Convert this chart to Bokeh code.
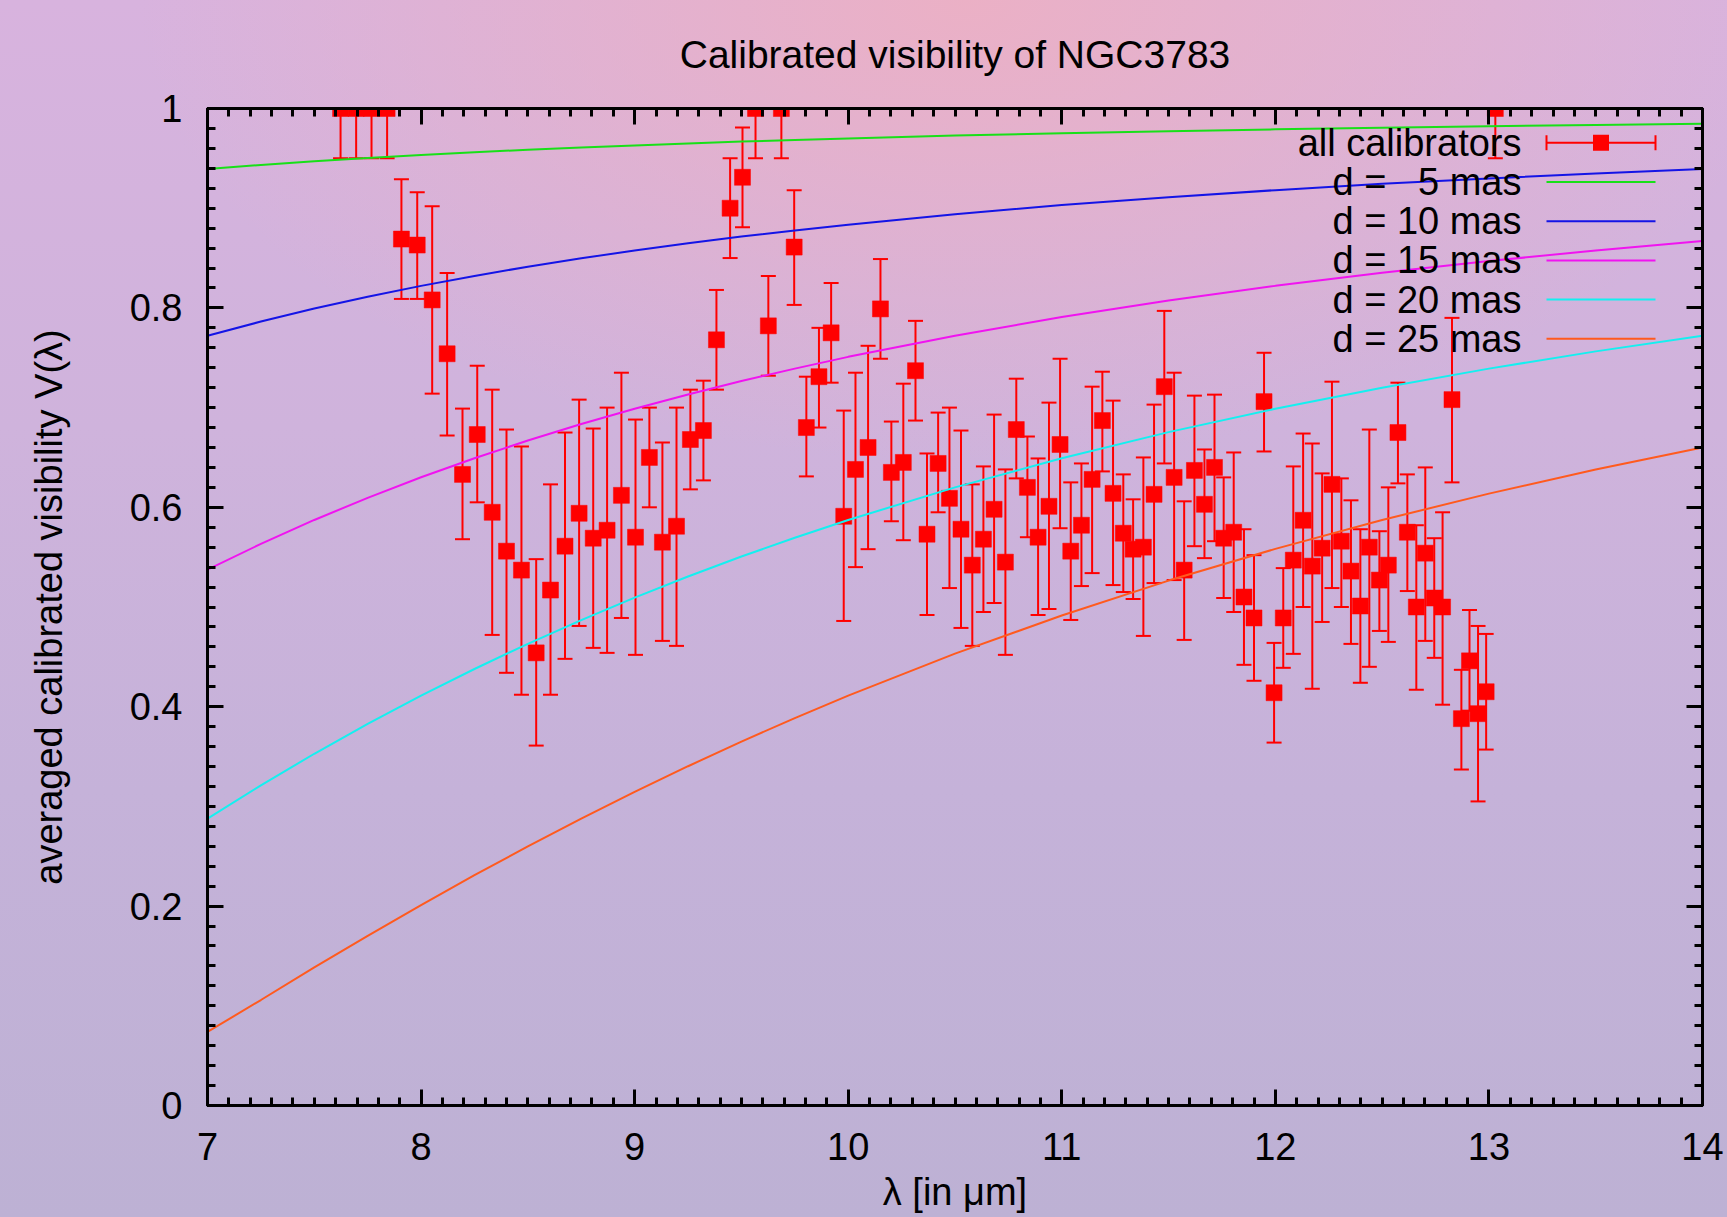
from bokeh.plotting import figure
from bokeh.models import (ColumnDataSource, Whisker, TeeHead, Range1d, LinearAxis,
                          SingleIntervalTicker, CustomJSTickFormatter, Label, Arrow,
                          BoxAnnotation)
from bokeh.embed import file_html
from bokeh.resources import INLINE

# ---------------- data ----------------
lam = [7.623, 7.696, 7.768, 7.841, 7.908, 7.982, 8.052, 8.122, 8.194, 8.263,
       8.333, 8.400, 8.470, 8.539, 8.606, 8.674, 8.740, 8.806, 8.871, 8.938,
       9.004, 9.069, 9.130, 9.196, 9.261, 9.322, 9.383, 9.447, 9.505, 9.566,
       9.626, 9.687, 9.747, 9.804, 9.863, 9.920, 9.979, 10.034, 10.093, 10.151,
       10.202, 10.258, 10.315, 10.369, 10.421, 10.474, 10.528, 10.581, 10.633, 10.683,
       10.736, 10.787, 10.839, 10.889, 10.940, 10.992, 11.042, 11.092, 11.142, 11.190,
       11.240, 11.288, 11.334, 11.382, 11.432, 11.480, 11.526, 11.573, 11.621, 11.668,
       11.715, 11.758, 11.805, 11.853, 11.900, 11.947, 11.994, 12.037, 12.084, 12.130,
       12.173, 12.219, 12.265, 12.309, 12.354, 12.398, 12.440, 12.487, 12.529, 12.574,
       12.618, 12.660, 12.702, 12.744, 12.783, 12.827, 12.871, 12.909, 12.949, 12.987,
       13.030]
vis = [1.000, 1.000, 1.000, 1.000, 0.869, 0.863, 0.808, 0.754, 0.633, 0.673,
       0.595, 0.556, 0.537, 0.454, 0.517, 0.561, 0.594, 0.569, 0.577, 0.612,
       0.570, 0.650, 0.565, 0.581, 0.668, 0.677, 0.768, 0.900, 0.931, 1.000,
       0.782, 1.000, 0.861, 0.680, 0.731, 0.775, 0.591, 0.638, 0.660, 0.799,
       0.635, 0.645, 0.737, 0.573, 0.644, 0.609, 0.578, 0.542, 0.568, 0.598,
       0.545, 0.678, 0.620, 0.570, 0.601, 0.663, 0.556, 0.582, 0.628, 0.687,
       0.614, 0.574, 0.558, 0.560, 0.613, 0.721, 0.630, 0.537, 0.637, 0.603,
       0.640, 0.569, 0.575, 0.510, 0.489, 0.706, 0.414, 0.489, 0.547, 0.587,
       0.541, 0.559, 0.623, 0.566, 0.536, 0.501, 0.560, 0.527, 0.542, 0.675,
       0.575, 0.500, 0.554, 0.509, 0.500, 0.708, 0.388, 0.446, 0.393, 0.415,
       1.000]
vis_lo = [0.950, 0.950, 0.950, 0.950, 0.809, 0.809, 0.714, 0.672, 0.568, 0.605,
          0.472, 0.434, 0.412, 0.361, 0.412, 0.448, 0.481, 0.459, 0.454, 0.489,
          0.452, 0.600, 0.466, 0.461, 0.618, 0.627, 0.718, 0.850, 0.881, 0.950,
          0.732, 0.950, 0.803, 0.631, 0.680, 0.725, 0.486, 0.540, 0.558, 0.749,
          0.586, 0.567, 0.687, 0.492, 0.595, 0.519, 0.479, 0.461, 0.495, 0.504,
          0.452, 0.629, 0.570, 0.492, 0.498, 0.579, 0.487, 0.521, 0.534, 0.636,
          0.522, 0.515, 0.508, 0.471, 0.524, 0.644, 0.527, 0.467, 0.561, 0.549,
          0.566, 0.509, 0.495, 0.442, 0.426, 0.656, 0.364, 0.439, 0.453, 0.500,
          0.418, 0.485, 0.519, 0.500, 0.463, 0.424, 0.440, 0.476, 0.465, 0.624,
          0.516, 0.417, 0.466, 0.449, 0.402, 0.625, 0.337, 0.396, 0.305, 0.357,
          0.950]
vis_hi = [1.000, 1.000, 1.000, 1.000, 0.929, 0.916, 0.902, 0.835, 0.699, 0.742,
          0.718, 0.678, 0.661, 0.548, 0.623, 0.675, 0.708, 0.679, 0.700, 0.735,
          0.688, 0.700, 0.665, 0.700, 0.718, 0.727, 0.818, 0.950, 0.981, 1.000,
          0.832, 1.000, 0.918, 0.731, 0.780, 0.825, 0.697, 0.735, 0.762, 0.849,
          0.686, 0.724, 0.787, 0.654, 0.695, 0.700, 0.677, 0.623, 0.641, 0.693,
          0.638, 0.729, 0.671, 0.649, 0.705, 0.749, 0.625, 0.644, 0.721, 0.736,
          0.707, 0.633, 0.608, 0.650, 0.703, 0.797, 0.735, 0.606, 0.712, 0.658,
          0.713, 0.630, 0.655, 0.578, 0.552, 0.755, 0.464, 0.539, 0.641, 0.674,
          0.664, 0.634, 0.726, 0.629, 0.607, 0.578, 0.678, 0.576, 0.620, 0.725,
          0.633, 0.582, 0.640, 0.569, 0.595, 0.790, 0.437, 0.497, 0.481, 0.473,
          1.000]

# uniform-disk model curves
model_lam = [7.0, 7.25, 7.5, 7.75, 8.0, 8.25, 8.5, 8.75, 9.0, 9.25, 9.5, 9.75, 10.0,
             10.5, 11.0, 11.5, 12.0, 12.5, 13.0, 13.5, 14.0]
model_d5 = [0.9394, 0.9434, 0.9471, 0.9504, 0.9534, 0.9561, 0.9586, 0.9609, 0.9630, 0.9650,
            0.9668, 0.9684, 0.9700, 0.9728, 0.9752, 0.9773, 0.9791, 0.9807, 0.9822, 0.9835,
            0.9846]
model_d10 = [0.7721, 0.7863, 0.7994, 0.8112, 0.8221, 0.8321, 0.8413, 0.8497, 0.8576, 0.8648,
             0.8715, 0.8777, 0.8835, 0.8940, 0.9031, 0.9111, 0.9181, 0.9244, 0.9299, 0.9349,
             0.9394]
model_d15 = [0.5374, 0.5633, 0.5873, 0.6095, 0.6301, 0.6492, 0.6670, 0.6835, 0.6989, 0.7132,
             0.7266, 0.7391, 0.7509, 0.7721, 0.7908, 0.8074, 0.8221, 0.8352, 0.8470, 0.8576,
             0.8671]
model_d20 = [0.2878, 0.3211, 0.3528, 0.3827, 0.4111, 0.4378, 0.4631, 0.4869, 0.5094, 0.5306,
             0.5506, 0.5695, 0.5873, 0.6200, 0.6492, 0.6754, 0.6989, 0.7200, 0.7391, 0.7564,
             0.7721]
model_d25 = [0.0738, 0.1058, 0.1386, 0.1702, 0.2010, 0.2310, 0.2599, 0.2878, 0.3146, 0.3403,
             0.3650, 0.3886, 0.4111, 0.4532, 0.4915, 0.5265, 0.5583, 0.5873, 0.6137, 0.6379,
             0.6600]

data_label = "all calibrators"
model_labels = ["d =\u00a0\u00a0\u00a05 mas", "d = 10 mas", "d = 15 mas", "d = 20 mas", "d = 25 mas"]
model_series = [model_d5, model_d10, model_d15, model_d20, model_d25]
model_colors = ["#18e018", "#1414e6", "#f014f0", "#14f0f0", "#ff5a1e"]

title_text = "Calibrated visibility of NGC3783"
x_label = "\u03bb [in \u03bcm]"
y_label = "averaged calibrated visibility V(\u03bb)"

FONT = "Liberation Sans"
FW, FH = 1495, 997

# ---------------- figure ----------------
p = figure(frame_width=FW, frame_height=FH,
           x_range=Range1d(7, 14), y_range=Range1d(0, 1),
           output_backend="svg", toolbar_location=None,
           min_border_left=207, min_border_right=25,
           min_border_top=108, min_border_bottom=112,
           title=title_text)

p.styles = {
    "background": "radial-gradient(ellipse 48% 38% at 56% 0%, rgba(236,176,196,0.95) 0%, "
                  "rgba(236,176,196,0) 100%), "
                  "linear-gradient(180deg, #d8b3de 0%, #cfb3dc 35%, #c5b2d9 65%, #bdb1d4 100%)"
}
p.background_fill_alpha = 0
p.border_fill_alpha = 0
p.grid.visible = False
p.outline_line_color = "black"
p.outline_line_width = 3

p.title.text_font = FONT
p.title.text_font_style = "normal"
p.title.text_font_size = "39px"
p.title.text_color = "black"
p.title.align = "center"
p.title.vertical_align = "top"
p.title.standoff = 62

xt = SingleIntervalTicker(interval=1, num_minor_ticks=10)
yt = SingleIntervalTicker(interval=0.2, num_minor_ticks=10)
yfmt = CustomJSTickFormatter(code="return (Math.round(tick*10)/10).toString();")
blank = CustomJSTickFormatter(code="return '';")


def style_axis(ax):
    ax.axis_line_width = 3
    ax.axis_line_color = "black"
    ax.major_tick_in = 16
    ax.major_tick_out = 0
    ax.minor_tick_in = 8
    ax.minor_tick_out = 0
    ax.major_tick_line_width = 3
    ax.minor_tick_line_width = 3
    ax.major_label_text_font = FONT
    ax.major_label_text_font_size = "38px"
    ax.major_label_text_color = "black"
    ax.axis_label_text_font = FONT
    ax.axis_label_text_font_style = "normal"
    ax.axis_label_text_font_size = "38px"
    ax.axis_label_text_color = "black"


xa = p.xaxis[0]
xa.ticker = xt
style_axis(xa)
xa.major_label_standoff = 27
xa.axis_label = x_label
xa.axis_label_standoff = 8

ya = p.yaxis[0]
ya.ticker = yt
ya.formatter = yfmt
style_axis(ya)
ya.major_label_standoff = 25
ya.axis_label = y_label
ya.axis_label_standoff = 57

top = LinearAxis(ticker=xt, formatter=blank)
right = LinearAxis(ticker=yt, formatter=blank)
for ax in (top, right):
    style_axis(ax)
    ax.major_label_text_font_size = "0px"
    ax.major_label_standoff = 0
p.add_layout(top, "above")
p.add_layout(right, "right")

# ---------------- data with error bars ----------------
src = ColumnDataSource(dict(lam=lam, vis=vis, lo=vis_lo, hi=vis_hi))
p.add_layout(Whisker(source=src, base="lam", lower="lo", upper="hi", dimension="height",
                     line_color="red", line_width=2,
                     lower_head=TeeHead(size=15, line_color="red", line_width=2),
                     upper_head=TeeHead(size=15, line_color="red", line_width=2)))
p.scatter("lam", "vis", source=src, marker="square", size=16,
          fill_color="red", line_color="red", line_width=0.5)

# ---------------- model curves ----------------
for ys, col in zip(model_series, model_colors):
    p.line(model_lam, ys, line_color=col, line_width=2)

# ---------------- legend (text right-aligned, sample on the right, as in the original) --------
row_y = [962.7 - 39.2 * i for i in range(6)]
text_right = 1314
s0, s1 = 1339, 1448
labels = [data_label] + model_labels
for yy, txt in zip(row_y, labels):
    p.add_layout(Label(x=text_right, y=yy, x_units="screen", y_units="screen", text=txt,
                       text_align="right", text_baseline="middle", text_font=FONT,
                       text_font_size="38px", text_color="black"))
# error-bar sample
p.add_layout(Arrow(x_start=s0, y_start=row_y[0], x_end=s1, y_end=row_y[0],
                   start_units="screen", end_units="screen", line_color="red", line_width=2,
                   start=TeeHead(size=15, line_color="red", line_width=2),
                   end=TeeHead(size=15, line_color="red", line_width=2)))
mid = (s0 + s1) / 2
p.add_layout(BoxAnnotation(left=mid - 8, right=mid + 8, bottom=row_y[0] - 8, top=row_y[0] + 8,
                           left_units="screen", right_units="screen",
                           bottom_units="screen", top_units="screen",
                           fill_color="red", fill_alpha=1, line_color=None, level="overlay"))
for yy, col in zip(row_y[1:], model_colors):
    p.add_layout(Arrow(x_start=s0, y_start=yy, x_end=s1, y_end=yy,
                       start_units="screen", end_units="screen",
                       line_color=col, line_width=2, start=None, end=None))

open("out.html", "w").write(file_html(p, INLINE))
